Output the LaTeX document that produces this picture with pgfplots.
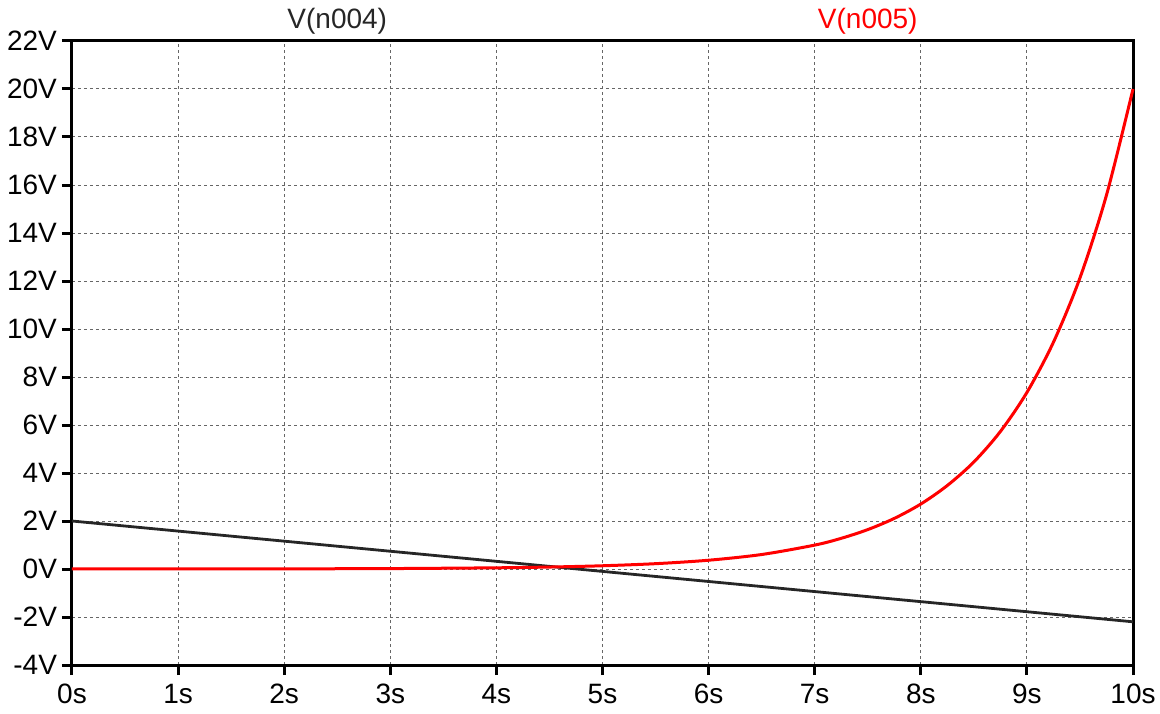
\documentclass[border=0pt]{standalone}
\usepackage{pgfplots}
\pgfplotsset{compat=1.18}
\usepackage{fontspec}
\setmainfont{Liberation Sans}

\begin{document}
\begin{tikzpicture}
\path[use as bounding box] (-36pt,-24pt) rectangle (544pt,332.5pt);
\begin{axis}[
    scale only axis,
    width=530.5pt,
    height=312pt,
    xmin=0, xmax=10,
    ymin=-4, ymax=22,
    xtick={0,1,...,10},
    ytick={-4,-2,...,22},
    xticklabels={0s,1s,2s,3s,4s,5s,6s,7s,8s,9s,10s},
    yticklabels={-4V,-2V,0V,2V,4V,6V,8V,10V,12V,14V,16V,18V,20V,22V},
    tick label style={font=\fontsize{14}{14}\selectfont, black},
    tick pos=left,
    tick align=outside,
    major tick length=5pt,
    every tick/.style={black, line width=1.5pt},
    axis line style={black, line width=1.5pt},
    xticklabel style={yshift=-1pt},
    yticklabel style={xshift=1pt},
    grid=major,
    major grid style={black!60, line width=0.5pt, dash pattern=on 1.5pt off 1.5pt},
    clip=false,
]
% V(n004)
\addplot[color=black!85, line width=1.4pt, mark=none] coordinates {
(0,2.0) (10,-2.2)
};
% V(n005)
\addplot[color=red, line width=1.5pt, mark=none, smooth] coordinates {
(0,0.0009) (1,0.0025) (2,0.0067) (3,0.018) (4,0.050) (4.5,0.082)
(5,0.135) (5.5,0.222) (6,0.366) (6.5,0.604) (7,0.996) (7.25,1.279)
(7.5,1.642) (7.75,2.108) (8,2.707) (8.25,3.48) (8.5,4.46) (8.75,5.73)
(9,7.358) (9.25,9.45) (9.5,12.13) (9.75,15.58) (10,20.0)
};
\node[font=\fontsize{14}{14}\selectfont, text=black!85, anchor=south] at (rel axis cs:0.25,1) {V(n004)};
\node[font=\fontsize{14}{14}\selectfont, text=red, anchor=south] at (rel axis cs:0.75,1) {V(n005)};
\end{axis}
\end{tikzpicture}
\end{document}
